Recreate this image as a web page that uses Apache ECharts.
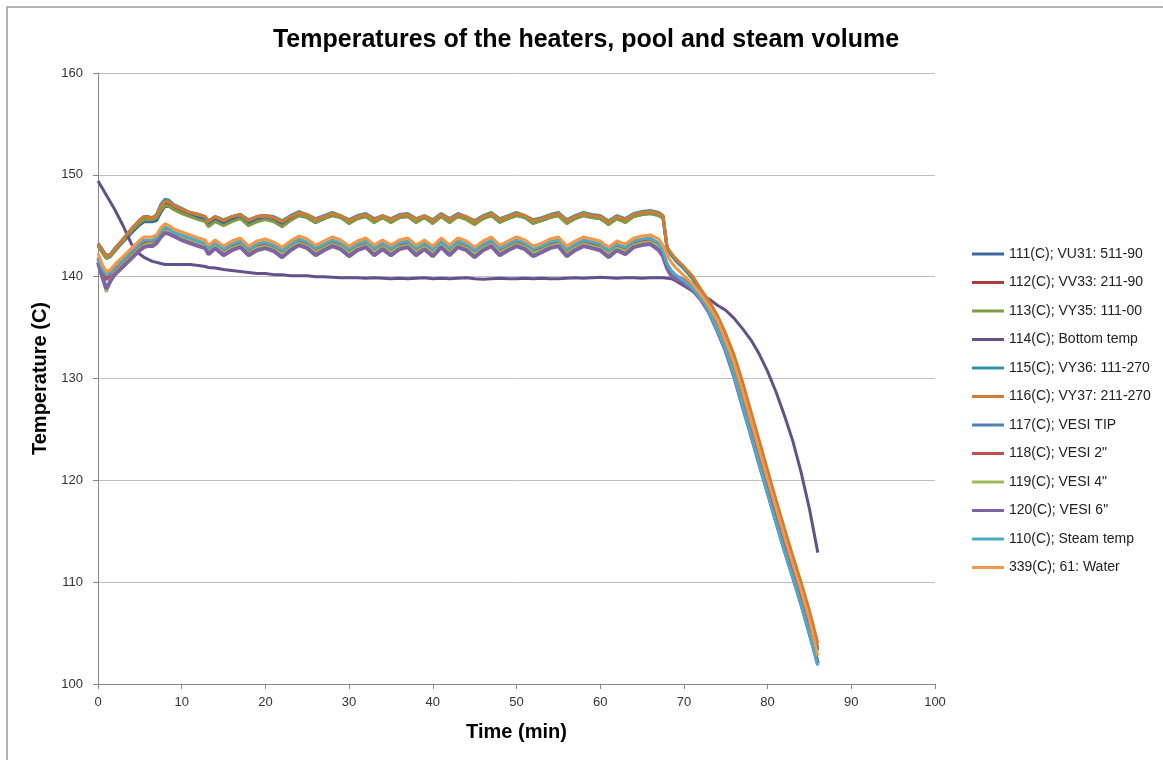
<!DOCTYPE html>
<html><head><meta charset="utf-8">
<script src="https://cdn.jsdelivr.net/npm/echarts@6/dist/echarts.min.js"></script>
<style>html,body{margin:0;padding:0;background:#fff}#c{width:1163px;height:760px}</style>
</head><body><div id="c"></div>
<script>
// Time (min)
const T = [0,0.5,1,1.5,2,3,4,5,5.5,6,6.5,7,7.5,8,8.5,9,10,11,12,12.8,13.2,
14,15,16,17,18,19,20,21,22,23,24,25,26,27,28,29,30,31,32,33,34,35,36,37,38,39,40,41,42,43,
44,45,46,47,48,49,50,51,52,53,54,55,56,57,58,59,60,61,62,63,64,65,66,67,
67.5,68,68.5,69,70,71,72,73,74,75,76,77,78,79,80,81,82,83,84,85,86];

const s111 = [143.1,142.4,141.8,142.0,142.5,143.4,144.3,145.1,145.4,145.4,145.4,145.5,146.3,146.9,146.9,146.7,146.3,146.0,145.8,145.6,145.1,
145.6,145.2,145.6,145.8,145.2,145.6,145.7,145.5,145.1,145.6,146.0,145.8,145.3,145.7,146.0,145.8,145.3,145.7,145.9,145.4,
145.8,145.4,145.8,145.9,145.4,145.8,145.3,145.9,145.4,145.9,145.7,145.2,145.7,146.0,145.4,145.7,146.0,145.8,145.3,145.5,
145.8,146.0,145.3,145.7,146.0,145.8,145.7,145.2,145.7,145.4,145.9,146.1,146.2,146.0,
145.8,142.8,142.2,141.6,140.8,139.9,138.5,137.2,135.7,133.8,131.6,129.0,126.1,123.2,120.3,117.4,114.6,111.9,109.2,106.4,103.3];
const s112 = [143.1,142.5,141.9,142.1,142.6,143.6,144.6,145.5,145.8,145.8,145.7,145.9,146.7,147.2,147.1,146.9,146.5,146.3,146.1,145.9,145.4,
145.9,145.5,145.9,146.1,145.5,145.9,146.0,145.8,145.4,145.8,146.2,146.0,145.5,145.8,146.1,145.9,145.5,145.8,146.0,145.5,
145.9,145.5,145.9,146.0,145.5,145.9,145.4,146.0,145.5,146.0,145.8,145.3,145.8,146.1,145.5,145.8,146.1,145.9,145.4,145.6,
145.9,146.1,145.4,145.8,146.1,145.9,145.8,145.3,145.8,145.5,146.0,146.2,146.3,146.1,
145.9,142.8,142.2,141.7,140.9,140.0,138.6,137.3,135.8,133.9,131.7,129.1,126.2,123.3,120.4,117.5,114.7,112.0,109.3,106.5,103.5];
const s113 = [143.0,142.4,141.8,142.0,142.5,143.5,144.5,145.3,145.6,145.6,145.6,145.8,146.5,147.0,146.9,146.6,146.2,145.9,145.6,145.4,144.9,
145.4,145.0,145.4,145.7,145.0,145.4,145.6,145.4,144.9,145.5,146.0,145.8,145.3,145.7,146.0,145.8,145.2,145.7,145.9,145.3,
145.8,145.3,145.8,145.9,145.3,145.8,145.2,145.9,145.3,145.9,145.6,145.1,145.7,146.0,145.3,145.7,146.0,145.8,145.2,145.5,
145.8,146.0,145.2,145.7,146.0,145.8,145.7,145.1,145.7,145.3,145.9,146.1,146.2,146.0,
145.7,142.7,142.1,141.6,140.8,139.8,138.5,137.2,135.7,133.8,131.6,129.0,126.1,123.2,120.3,117.4,114.6,111.9,109.2,106.4,103.4];
const s114 = [149.4,148.7,148.0,147.3,146.6,145.0,143.2,142.2,141.9,141.7,141.5,141.4,141.3,141.2,141.2,141.2,141.2,141.2,141.1,141.0,140.9,
140.85,140.7,140.6,140.5,140.4,140.3,140.3,140.2,140.2,140.1,140.1,140.1,140.0,140.0,139.95,139.9,139.9,139.9,139.85,139.9,
139.85,139.8,139.85,139.8,139.85,139.9,139.8,139.85,139.8,139.85,139.9,139.8,139.75,139.8,139.85,139.8,139.8,139.85,139.8,139.85,
139.8,139.8,139.85,139.9,139.85,139.9,139.95,139.9,139.85,139.9,139.9,139.85,139.9,139.9,
139.9,139.85,139.8,139.6,139.1,138.6,138.2,137.8,137.2,136.7,135.9,134.9,133.8,132.4,130.7,128.7,126.4,123.9,120.8,117.2,112.9];
const s115 = [143.3,142.7,142.1,142.2,142.8,143.7,144.7,145.6,145.9,145.9,145.8,146.1,147.1,147.6,147.5,147.1,146.7,146.3,146.1,145.9,145.5,
145.9,145.6,145.9,146.1,145.6,145.9,146.0,145.9,145.5,146.0,146.4,146.1,145.7,146.0,146.3,146.0,145.6,146.0,146.2,145.7,
146.0,145.7,146.1,146.2,145.7,146.0,145.6,146.2,145.7,146.2,145.9,145.5,146.0,146.3,145.7,146.0,146.3,146.0,145.6,145.8,
146.1,146.3,145.6,146.0,146.3,146.1,146.0,145.5,146.0,145.7,146.2,146.4,146.5,146.3,
146.0,142.7,142.1,141.6,140.8,139.9,138.6,137.4,135.9,134.1,131.9,129.3,126.4,123.5,120.6,117.7,114.9,112.2,109.5,106.6,103.3];
const s116 = [143.2,142.6,142.0,142.2,142.7,143.7,144.7,145.6,145.9,145.8,145.8,146.0,146.9,147.4,147.3,147.0,146.6,146.3,146.1,145.9,145.4,
145.9,145.5,145.9,146.1,145.5,145.9,146.0,145.8,145.4,145.9,146.3,146.1,145.6,145.9,146.2,146.0,145.5,145.9,146.1,145.6,
146.0,145.6,146.0,146.1,145.6,146.0,145.5,146.1,145.6,146.1,145.9,145.4,145.9,146.2,145.6,145.9,146.2,146.0,145.5,145.7,
146.0,146.2,145.5,145.9,146.2,146.0,145.9,145.4,145.9,145.6,146.1,146.3,146.4,146.2,
146.0,142.9,142.3,141.8,141.0,140.1,138.8,137.6,136.2,134.4,132.3,129.7,126.8,123.9,121.0,118.1,115.3,112.6,110.0,107.2,104.0];
const s117 = [141.7,140.5,139.7,140.1,140.6,141.4,142.2,143.0,143.3,143.3,143.3,143.5,144.2,144.6,144.5,144.2,143.9,143.6,143.3,143.1,142.5,
143.1,142.4,142.9,143.2,142.4,142.9,143.1,142.8,142.3,142.9,143.4,143.1,142.5,142.9,143.3,143.0,142.4,142.9,143.2,142.5,
143.0,142.5,143.0,143.2,142.5,143.0,142.4,143.2,142.5,143.2,142.9,142.3,142.9,143.3,142.5,142.9,143.3,143.0,142.4,142.7,
143.1,143.3,142.4,142.9,143.3,143.1,142.9,142.3,142.9,142.6,143.2,143.4,143.5,143.0,
142.3,141.1,140.4,140.0,139.6,138.9,138.0,136.8,135.0,133.0,130.6,127.7,124.8,121.9,119.0,116.2,113.4,110.8,108.1,105.2,102.1];
const s118 = [141.8,140.6,139.8,140.2,140.7,141.5,142.3,143.1,143.4,143.4,143.4,143.6,144.3,144.7,144.5,144.3,144.0,143.7,143.4,143.2,142.6,
143.2,142.5,143.0,143.3,142.5,143.0,143.2,142.9,142.4,143.0,143.5,143.2,142.6,143.0,143.4,143.1,142.5,143.0,143.3,142.6,
143.1,142.6,143.1,143.3,142.6,143.1,142.5,143.3,142.6,143.3,143.0,142.4,143.0,143.4,142.6,143.0,143.4,143.1,142.5,142.8,
143.2,143.4,142.5,143.0,143.4,143.2,143.0,142.4,143.0,142.7,143.3,143.5,143.6,143.1,
142.4,141.2,140.5,140.1,139.7,139.0,138.1,136.9,135.2,133.2,130.8,127.9,125.0,122.1,119.2,116.4,113.6,111.0,108.3,105.4,102.2];
const s119 = [141.6,140.0,138.5,139.7,140.4,141.2,142.0,142.8,143.1,143.2,143.2,143.4,144.0,144.5,144.4,144.1,143.8,143.5,143.2,143.0,142.4,
143.0,142.3,142.8,143.1,142.3,142.8,143.0,142.7,142.2,142.8,143.3,143.0,142.4,142.8,143.2,142.9,142.3,142.8,143.1,142.4,
142.9,142.4,142.9,143.1,142.4,142.9,142.3,143.1,142.4,143.1,142.8,142.2,142.8,143.2,142.4,142.8,143.2,142.9,142.3,142.6,
143.0,143.2,142.3,142.8,143.2,143.0,142.8,142.2,142.8,142.5,143.1,143.3,143.4,142.9,
142.2,141.0,140.3,139.9,139.5,138.8,137.9,136.7,134.9,132.9,130.5,127.6,124.7,121.8,118.9,116.1,113.3,110.7,108.0,105.1,102.2];
const s120 = [141.4,140.0,138.8,139.6,140.2,141.0,141.8,142.6,142.9,143.0,143.0,143.3,143.9,144.3,144.2,144.0,143.6,143.3,143.0,142.8,142.2,
142.8,142.1,142.6,142.9,142.1,142.6,142.8,142.5,141.9,142.6,143.1,142.8,142.1,142.6,143.0,142.7,142.0,142.6,142.9,142.1,
142.7,142.1,142.7,142.9,142.1,142.7,142.0,142.9,142.1,142.9,142.6,141.9,142.6,143.0,142.1,142.6,143.0,142.7,142.0,142.4,
142.8,143.0,142.0,142.6,143.0,142.8,142.6,141.9,142.6,142.2,142.9,143.1,143.2,142.6,
142.0,140.8,140.1,139.8,139.4,138.7,137.8,136.5,134.7,132.7,130.2,127.3,124.5,121.6,118.8,116.0,113.2,110.6,107.9,105.0,102.0];
const s110 = [141.9,140.8,140.2,140.4,140.9,141.7,142.5,143.3,143.6,143.6,143.6,143.8,144.5,144.9,144.7,144.4,144.1,143.8,143.5,143.3,142.8,
143.3,142.7,143.2,143.5,142.7,143.2,143.4,143.1,142.6,143.2,143.7,143.4,142.8,143.2,143.6,143.3,142.7,143.2,143.5,142.8,
143.3,142.8,143.3,143.5,142.8,143.3,142.7,143.5,142.8,143.5,143.2,142.6,143.2,143.6,142.8,143.2,143.6,143.3,142.7,143.0,
143.4,143.6,142.7,143.2,143.6,143.4,143.2,142.6,143.2,142.9,143.5,143.7,143.8,143.3,
142.5,141.3,140.6,140.2,139.6,138.9,137.9,136.6,134.8,132.8,130.3,127.3,124.5,121.6,118.7,115.9,113.1,110.5,107.8,104.9,101.8];
const s339 = [142.3,141.2,140.5,140.7,141.2,142.0,142.8,143.6,143.9,143.9,143.9,144.1,144.8,145.2,145.0,144.7,144.4,144.1,143.8,143.6,143.1,
143.6,143.0,143.5,143.8,143.0,143.5,143.7,143.4,142.9,143.5,144.0,143.7,143.1,143.5,143.9,143.6,143.0,143.5,143.8,143.1,
143.6,143.1,143.6,143.8,143.1,143.6,143.0,143.8,143.1,143.8,143.5,142.9,143.5,143.9,143.1,143.5,143.9,143.6,143.0,143.3,
143.7,143.9,143.0,143.5,143.9,143.7,143.5,142.9,143.5,143.2,143.8,144.0,144.1,143.7,
143.1,142.1,141.4,140.9,140.1,139.3,138.3,137.1,135.7,133.7,131.5,128.8,125.9,123.0,120.1,117.3,114.5,111.8,109.2,106.3,102.8];

const seriesNames = ['111(C); VU31: 511-90','112(C); VV33: 211-90','113(C); VY35: 111-00','114(C); Bottom temp',
  '115(C); VY36: 111-270','116(C); VY37: 211-270','117(C); VESI TIP','118(C); VESI 2"','119(C); VESI 4"',
  '120(C); VESI 6"','110(C); Steam temp','339(C); 61: Water'];
const seriesValues = [s111,s112,s113,s114,s115,s116,s117,s118,s119,s120,s110,s339];
const seriesColors = ['#3A67A0','#A63F3C','#7E9C45','#64508A','#3A92A8','#D17B34',
  '#4F81BD','#C0504D','#9BBB59','#8064A2','#4BACC6','#F79646'];
const xTicks = {min:0, max:100, step:10};
const yTicks = {min:100, max:160, step:10};

const chart = echarts.init(document.getElementById('c'));
const FONT = 'Liberation Sans';
chart.setOption({
  animation: false,
  backgroundColor: '#ffffff',
  graphic: [
    {type:'rect', silent:true, z:-10, shape:{x:7, y:7, width:1200, height:800},
     style:{fill:'none', stroke:'#9a9a9a', lineWidth:1.5}},
    {type:'text', silent:true, x:586, y:40,
     style:{text:'Temperatures of the heaters, pool and steam volume', textAlign:'center', textVerticalAlign:'middle',
            font:'bold 25px "Liberation Sans"', fill:'#000'}}
  ],
  grid: {left:98, right:228, top:73, bottom:76, containLabel:false},
  legend: {
    orient:'vertical', left:967, top:242, itemWidth:32, itemHeight:3, itemGap:14.5,
    icon:'rect',
    data: seriesNames,
    textStyle:{fontFamily:FONT, fontSize:14, color:'#222', lineHeight:14}
  },
  xAxis: {
    type:'value', min:xTicks.min, max:xTicks.max, interval:xTicks.step,
    name:'Time (min)', nameLocation:'middle', nameGap:38,
    nameTextStyle:{fontFamily:FONT, fontWeight:'bold', fontSize:20, color:'#000'},
    axisLine:{show:true, lineStyle:{color:'#868686', width:1}},
    axisTick:{show:true, length:5, lineStyle:{color:'#868686'}},
    axisLabel:{margin:12, fontFamily:FONT, fontSize:13, color:'#333'},
    splitLine:{show:false}
  },
  yAxis: {
    type:'value', min:yTicks.min, max:yTicks.max, interval:yTicks.step,
    name:'Temperature (C)', nameLocation:'middle', nameGap:43, nameRotate:90,
    nameTextStyle:{fontFamily:FONT, fontWeight:'bold', fontSize:20, color:'#000'},
    axisLine:{show:true, lineStyle:{color:'#868686', width:1}},
    axisTick:{show:true, length:5, lineStyle:{color:'#868686'}},
    axisLabel:{margin:15, fontFamily:FONT, fontSize:13, color:'#333'},
    splitLine:{show:true, lineStyle:{color:'#bfbfbf', width:1}}
  },
  series: seriesNames.map((n, i) => ({
    name: n, type:'line', symbol:'none', showSymbol:false, smooth:false,
    data: T.map((t, k) => [t, seriesValues[i][k]]),
    color: seriesColors[i],
    lineStyle:{color: seriesColors[i], width: (n.startsWith('120') ? 4 : 3)},
    emphasis:{disabled:true}
  }))
});
</script>
</body></html>
